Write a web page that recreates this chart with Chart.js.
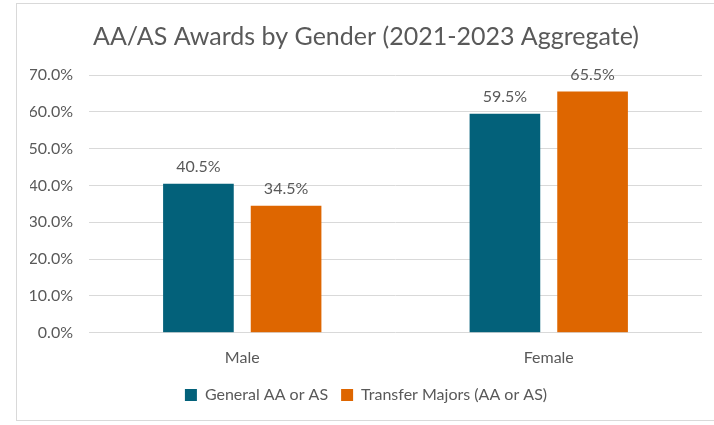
<!DOCTYPE html>
<html>
<head>
<meta charset="utf-8">
<script src="https://cdn.jsdelivr.net/npm/chart.js@4.4.0/dist/chart.umd.min.js"></script>
<style>
  html, body { margin: 0; padding: 0; background: #fff; overflow: hidden; }
  #box {
    position: absolute; left: 16px; top: 3px;
    width: 702px; height: 418px;
    border: 1px solid #d9d9d9; box-sizing: border-box;
  }
  #chart { position: absolute; left: 30px; top: 4px; }
</style>
</head>
<body>
<div id="box"></div>
<canvas id="chart" width="686" height="416"></canvas>
<script>
// chart data
const categories = ['Male', 'Female'];
const generalAA = [0.405, 0.595];
const transferAA = [0.345, 0.655];
const seriesNames = ['General AA or AS', 'Transfer Majors (AA or AS)'];

const textColor = '#595959';
const fontFamily = 'Lato, "Open Sans", sans-serif';

function pct(v) {
  return (v * 100).toFixed(1) + '%';
}

// draws the value above each bar
const barLabels = {
  id: 'barLabels',
  afterDatasetsDraw(chart) {
    const ctx = chart.ctx;
    ctx.save();
    ctx.font = '16px ' + fontFamily;
    ctx.fillStyle = textColor;
    ctx.textAlign = 'center';
    ctx.textBaseline = 'middle';
    chart.data.datasets.forEach((ds, i) => {
      chart.getDatasetMeta(i).data.forEach((bar, j) => {
        ctx.fillText(pct(ds.data[j]), bar.x, bar.y - 17);
      });
    });
    ctx.restore();
  }
};

const ctx = document.getElementById('chart').getContext('2d');
new Chart(ctx, {
  type: 'bar',
  data: {
    labels: categories,
    datasets: [{
      label: seriesNames[0],
      data: generalAA,
      backgroundColor: '#03617a',
      categoryPercentage: 0.572,
      barPercentage: 0.806
    }, {
      label: seriesNames[1],
      data: transferAA,
      backgroundColor: '#de6600',
      categoryPercentage: 0.572,
      barPercentage: 0.806
    }]
  },
  options: {
    responsive: false,
    animation: false,
    layout: { padding: { left: 0, right: 14, top: 0, bottom: 7 } },
    plugins: {
      title: {
        display: true,
        text: 'AA/AS Awards by Gender (2021-2023 Aggregate)',
        color: textColor,
        font: { family: fontFamily, size: 25, weight: 'normal' },
        padding: { top: 18, bottom: 23 }
      },
      legend: {
        position: 'bottom',
        labels: {
          color: textColor,
          font: { family: fontFamily, size: 16 },
          boxWidth: 12,
          boxHeight: 12,
          padding: 13
        }
      },
      tooltip: { enabled: false }
    },
    scales: {
      x: {
        grid: { display: false },
        border: { display: false },
        ticks: { color: textColor, font: { family: fontFamily, size: 16 }, padding: 7 }
      },
      y: {
        min: 0,
        max: 0.7,
        afterFit: (scale) => { scale.width = 59; },
        grid: { color: '#d9d9d9', drawTicks: false },
        border: { display: false },
        ticks: {
          stepSize: 0.1,
          color: textColor,
          padding: 16,
          font: { family: fontFamily, size: 16 },
          callback: (v) => pct(v)
        }
      }
    }
  },
  plugins: [barLabels]
});
</script>
</body>
</html>
